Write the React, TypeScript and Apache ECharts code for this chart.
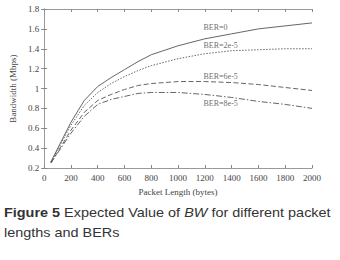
import React, { useEffect, useRef } from "react";
import * as echarts from "echarts";

const packetLengths = [50, 200, 300, 400, 500, 600, 700, 800, 1000, 1200, 1400, 1600, 1800, 2000];
const ber0 = [0.26, 0.66, 0.88, 1.02, 1.11, 1.19, 1.27, 1.34, 1.43, 1.5, 1.55, 1.6, 1.63, 1.66];
const ber2e5 = [0.26, 0.63, 0.83, 0.96, 1.05, 1.12, 1.18, 1.23, 1.3, 1.35, 1.38, 1.39, 1.4, 1.4];
const ber6e5 = [0.25, 0.58, 0.76, 0.88, 0.94, 0.99, 1.03, 1.05, 1.07, 1.07, 1.06, 1.04, 1.01, 0.98];
const ber8e5 = [0.25, 0.55, 0.72, 0.84, 0.89, 0.92, 0.95, 0.96, 0.96, 0.94, 0.91, 0.87, 0.84, 0.8];
const seriesNames = ["BER=0", "BER=2e-5", "BER=6e-5", "BER=8e-5"];
const labelX = [1190, 1190, 1190, 1190];
const labelY = [1.61, 1.43, 1.12, 0.85];

const serif = "'Liberation Serif', 'DejaVu Serif', serif";
const sans = "'Liberation Sans', Arial, sans-serif";
const grey = "#555";

export default function App() {
  const ref = useRef<HTMLDivElement>(null);
  useEffect(() => {
    if (!ref.current) return;
    const chart = echarts.init(ref.current, null, { renderer: "svg" });
    const values = [ber0, ber2e5, ber6e5, ber8e5];
    const dashes: any[] = ["solid", [1.5, 1.5], [5, 2.5], [6, 2, 1.5, 2]];
    const axisCommon = {
      axisLine: { lineStyle: { color: "#999", width: 1 } },
      axisTick: { inside: true, length: 3, lineStyle: { color: "#888" } },
      splitLine: { show: false },
    };
    chart.setOption({
      animation: false,
      backgroundColor: "#fff",
      grid: { left: 35, right: 28, top: 9, bottom: 92 },
      xAxis: [
        {
          type: "value", min: 0, max: 2000, interval: 200, position: "bottom",
          name: "Packet Length (bytes)", nameLocation: "middle", nameGap: 19,
          nameTextStyle: { fontFamily: serif, fontSize: 9, color: "#444" },
          axisLabel: { fontFamily: serif, fontSize: 9, color: "#444", margin: 5, formatter: (v: number) => String(v) },
          ...axisCommon,
        },
        {
          type: "value", min: 0, max: 2000, interval: 200, position: "top",
          axisLabel: { show: false }, ...axisCommon,
        },
      ],
      yAxis: [
        {
          type: "value", min: 0.2, max: 1.8, interval: 0.2, position: "left",
          name: "Bandwidth (Mbps)", nameLocation: "middle", nameGap: 24,
          nameTextStyle: { fontFamily: serif, fontSize: 9, color: "#444" },
          axisLabel: { fontFamily: serif, fontSize: 9, color: "#444", margin: 5 },
          ...axisCommon,
        },
        {
          type: "value", min: 0.2, max: 1.8, interval: 0.2, position: "right",
          axisLabel: { show: false }, ...axisCommon,
        },
      ],
      series: [
        ...values.map((v, i) => ({
          type: "line",
          name: seriesNames[i],
          data: packetLengths.map((x, j) => [x, v[j]]),
          showSymbol: false,
          symbol: "none",
          lineStyle: { color: grey, width: 0.9, type: dashes[i] },
        })),
        {
          type: "scatter",
          symbolSize: 0,
          data: seriesNames.map((n, i) => ({ value: [labelX[i], labelY[i]], name: n })),
          label: {
            show: true, position: "right", distance: 0,
            formatter: (p: any) => p.name,
            fontFamily: serif, fontSize: 8, color: "#444",
          },
        },
      ],
      graphic: [
        {
          type: "text", x: 4, y: 206, scaleX: 1.11,
          style: {
            text: "{b|Figure 5} Expected Value of {i|BW} for different packet",
            rich: {
              b: { fontWeight: "bold", fontFamily: sans, fontSize: 13, fill: "#333" },
              i: { fontStyle: "italic", fontFamily: sans, fontSize: 13, fill: "#333" },
            },
            fontFamily: sans, fontSize: 13, fill: "#333",
          },
        },
        {
          type: "text", x: 4, y: 226, scaleX: 1.11,
          style: {
            text: "lengths and BERs",
            fontFamily: sans, fontSize: 13, fill: "#333",
          },
        },
      ],
    });
    return () => chart.dispose();
  }, []);
  return <div ref={ref} style={{ position: "fixed", left: 0, top: 0, width: 340, height: 260 }} />;
}
